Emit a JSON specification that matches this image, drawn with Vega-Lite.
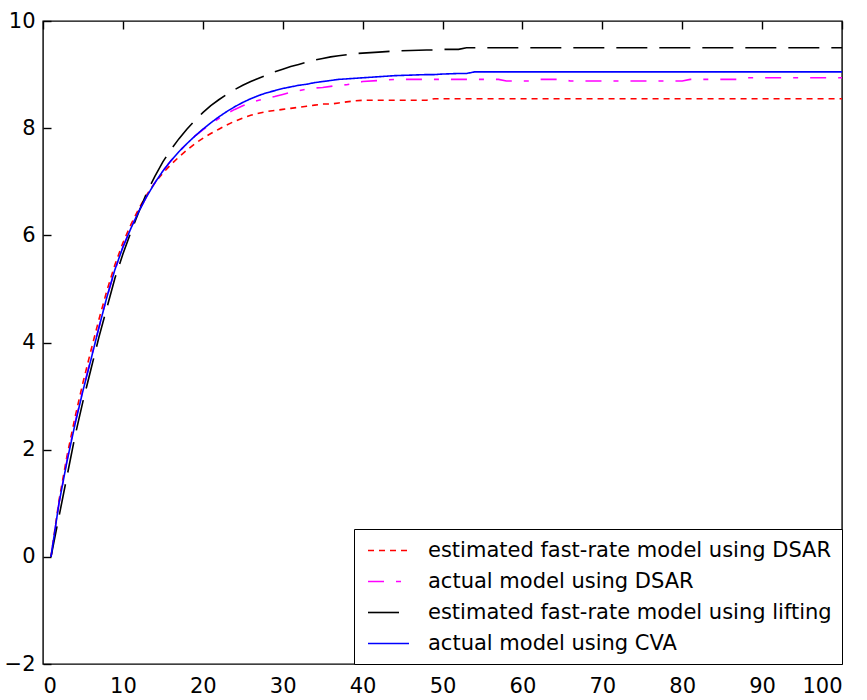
{
  "$schema": "https://vega.github.io/schema/vega-lite/v6.json",
  "width": 799,
  "height": 643,
  "autosize": {"type": "none"},
  "padding": {"left": 43, "top": 21, "right": 25, "bottom": 36},
  "background": "white",
  "datasets": {
    "response": [
      {"t": 1, "s1": 0, "s2": 0, "s3": 0, "s4": 0},
      {"t": 2, "s1": 1.05, "s2": 1.0, "s3": 0.75, "s4": 1.0},
      {"t": 3, "s1": 1.88, "s2": 1.8, "s3": 1.5, "s4": 1.78},
      {"t": 4, "s1": 2.6, "s2": 2.5, "s3": 2.25, "s4": 2.47},
      {"t": 5, "s1": 3.25, "s2": 3.12, "s3": 2.9, "s4": 3.1},
      {"t": 6, "s1": 3.85, "s2": 3.7, "s3": 3.5, "s4": 3.68},
      {"t": 7, "s1": 4.43, "s2": 4.28, "s3": 4.1, "s4": 4.28},
      {"t": 8, "s1": 4.97, "s2": 4.85, "s3": 4.65, "s4": 4.85},
      {"t": 9, "s1": 5.45, "s2": 5.35, "s3": 5.2, "s4": 5.36},
      {"t": 10, "s1": 5.86, "s2": 5.78, "s3": 5.65, "s4": 5.78},
      {"t": 11, "s1": 6.2, "s2": 6.14, "s3": 6.06, "s4": 6.13},
      {"t": 12, "s1": 6.5, "s2": 6.45, "s3": 6.44, "s4": 6.45},
      {"t": 13, "s1": 6.76, "s2": 6.73, "s3": 6.8, "s4": 6.73},
      {"t": 14, "s1": 6.98, "s2": 6.98, "s3": 7.1, "s4": 6.98},
      {"t": 15, "s1": 7.16, "s2": 7.2, "s3": 7.37, "s4": 7.2},
      {"t": 16, "s1": 7.32, "s2": 7.39, "s3": 7.6, "s4": 7.39},
      {"t": 17, "s1": 7.46, "s2": 7.56, "s3": 7.8, "s4": 7.56},
      {"t": 18, "s1": 7.59, "s2": 7.71, "s3": 7.98, "s4": 7.71},
      {"t": 19, "s1": 7.71, "s2": 7.85, "s3": 8.14, "s4": 7.85},
      {"t": 20, "s1": 7.81, "s2": 7.97, "s3": 8.29, "s4": 7.98},
      {"t": 21, "s1": 7.9, "s2": 8.08, "s3": 8.42, "s4": 8.1},
      {"t": 22, "s1": 7.98, "s2": 8.18, "s3": 8.53, "s4": 8.21},
      {"t": 23, "s1": 8.06, "s2": 8.27, "s3": 8.63, "s4": 8.31},
      {"t": 24, "s1": 8.13, "s2": 8.35, "s3": 8.72, "s4": 8.4},
      {"t": 25, "s1": 8.19, "s2": 8.42, "s3": 8.8, "s4": 8.48},
      {"t": 26, "s1": 8.24, "s2": 8.48, "s3": 8.87, "s4": 8.55},
      {"t": 27, "s1": 8.28, "s2": 8.52, "s3": 8.93, "s4": 8.61},
      {"t": 28, "s1": 8.31, "s2": 8.56, "s3": 8.99, "s4": 8.66},
      {"t": 29, "s1": 8.33, "s2": 8.59, "s3": 9.05, "s4": 8.7},
      {"t": 30, "s1": 8.35, "s2": 8.63, "s3": 9.1, "s4": 8.74},
      {"t": 31, "s1": 8.37, "s2": 8.67, "s3": 9.15, "s4": 8.77},
      {"t": 32, "s1": 8.39, "s2": 8.7, "s3": 9.19, "s4": 8.8},
      {"t": 33, "s1": 8.41, "s2": 8.73, "s3": 9.23, "s4": 8.82},
      {"t": 34, "s1": 8.43, "s2": 8.75, "s3": 9.27, "s4": 8.85},
      {"t": 35, "s1": 8.45, "s2": 8.76, "s3": 9.3, "s4": 8.87},
      {"t": 36, "s1": 8.45, "s2": 8.78, "s3": 9.33, "s4": 8.89},
      {"t": 37, "s1": 8.47, "s2": 8.8, "s3": 9.35, "s4": 8.91},
      {"t": 38, "s1": 8.49, "s2": 8.81, "s3": 9.37, "s4": 8.92},
      {"t": 39, "s1": 8.51, "s2": 8.84, "s3": 9.39, "s4": 8.93},
      {"t": 40, "s1": 8.52, "s2": 8.87, "s3": 9.4, "s4": 8.94},
      {"t": 42, "s1": 8.52, "s2": 8.89, "s3": 9.42, "s4": 8.96},
      {"t": 44, "s1": 8.52, "s2": 8.91, "s3": 9.44, "s4": 8.98},
      {"t": 46, "s1": 8.52, "s2": 8.91, "s3": 9.45, "s4": 8.99},
      {"t": 48, "s1": 8.52, "s2": 8.91, "s3": 9.46, "s4": 9.0},
      {"t": 49, "s1": 8.55, "s2": 8.91, "s3": 9.46, "s4": 9.0},
      {"t": 50, "s1": 8.55, "s2": 8.91, "s3": 9.47, "s4": 9.01},
      {"t": 52, "s1": 8.55, "s2": 8.91, "s3": 9.47, "s4": 9.02},
      {"t": 53, "s1": 8.55, "s2": 8.91, "s3": 9.5, "s4": 9.02},
      {"t": 54, "s1": 8.55, "s2": 8.91, "s3": 9.5, "s4": 9.05},
      {"t": 57, "s1": 8.55, "s2": 8.91, "s3": 9.5, "s4": 9.05},
      {"t": 58, "s1": 8.55, "s2": 8.88, "s3": 9.5, "s4": 9.05},
      {"t": 61, "s1": 8.55, "s2": 8.88, "s3": 9.5, "s4": 9.05},
      {"t": 62, "s1": 8.55, "s2": 8.91, "s3": 9.5, "s4": 9.05},
      {"t": 65, "s1": 8.55, "s2": 8.91, "s3": 9.5, "s4": 9.05},
      {"t": 66, "s1": 8.55, "s2": 8.88, "s3": 9.5, "s4": 9.05},
      {"t": 80, "s1": 8.55, "s2": 8.88, "s3": 9.5, "s4": 9.05},
      {"t": 81, "s1": 8.55, "s2": 8.91, "s3": 9.5, "s4": 9.05},
      {"t": 87, "s1": 8.55, "s2": 8.91, "s3": 9.5, "s4": 9.05},
      {"t": 88, "s1": 8.55, "s2": 8.94, "s3": 9.5, "s4": 9.05},
      {"t": 100, "s1": 8.55, "s2": 8.94, "s3": 9.5, "s4": 9.05}
    ]
  },
  "data": {"name": "response"},
  "transform": [
    {"fold": ["s1", "s2", "s3", "s4"], "as": ["series", "y"]}
  ],
  "layer": [
    {
      "mark": {"type": "line", "strokeWidth": 1.6, "clip": true},
      "encoding": {
        "x": {
          "field": "t", "type": "quantitative",
          "scale": {"domain": [0, 100], "nice": false, "zero": false},
          "axis": {
            "orient": "bottom", "title": null,
            "values": [0, 10, 20, 30, 40, 50, 60, 70, 80, 90, 100],
            "labelPadding": 11
          }
        },
        "y": {
          "field": "y", "type": "quantitative",
          "scale": {"domain": [-2, 10], "nice": false, "zero": false},
          "axis": {
            "orient": "left", "title": null,
            "values": [-2, 0, 2, 4, 6, 8, 10],
            "labelPadding": 8
          }
        },
        "color": {
          "field": "series", "type": "nominal",
          "scale": {
            "domain": ["s1", "s2", "s3", "s4"],
            "range": ["#ff0000", "#ff00ff", "#000000", "#0000ff"]
          },
          "legend": {
            "title": null,
            "orient": "bottom-right",
            "offset": 0,
            "labelExpr": "datum.value == 's1' ? 'estimated fast-rate model using DSAR' : datum.value == 's2' ? 'actual model using DSAR' : datum.value == 's3' ? 'estimated fast-rate model using lifting' : 'actual model using CVA'"
          }
        },
        "strokeDash": {
          "field": "series", "type": "nominal",
          "scale": {
            "domain": ["s1", "s2", "s3", "s4"],
            "range": [[6, 5], [16, 12, 5, 12], [31, 12], [1, 0]]
          },
          "legend": {
            "title": null,
            "orient": "bottom-right",
            "offset": 0,
            "labelExpr": "datum.value == 's1' ? 'estimated fast-rate model using DSAR' : datum.value == 's2' ? 'actual model using DSAR' : datum.value == 's3' ? 'estimated fast-rate model using lifting' : 'actual model using CVA'"
          }
        }
      }
    },
    {
      "mark": {"type": "line", "opacity": 0},
      "encoding": {
        "x": {
          "field": "t", "type": "quantitative",
          "scale": {"domain": [0, 100], "nice": false, "zero": false},
          "axis": {
            "orient": "top", "title": null, "labels": false,
            "values": [0, 10, 20, 30, 40, 50, 60, 70, 80, 90, 100]
          }
        },
        "y": {
          "field": "y", "type": "quantitative",
          "scale": {"domain": [-2, 10], "nice": false, "zero": false},
          "axis": {
            "orient": "right", "title": null, "labels": false,
            "values": [-2, 0, 2, 4, 6, 8, 10]
          }
        }
      }
    }
  ],
  "resolve": {"axis": {"x": "independent", "y": "independent"}},
  "config": {
    "view": {"stroke": "#000000", "strokeWidth": 1.4},
    "axis": {
      "domain": false,
      "ticks": false,
      "tickSize": 0,
      "grid": true,
      "gridColor": "#000000",
      "gridOpacity": 1,
      "gridWidth": 1.4,
      "gridDash": [8, 2000],
      "zindex": 1,
      "labelFont": "DejaVu Sans",
      "labelFontSize": 21,
      "labelColor": "#000000"
    },
    "legend": {
      "symbolType": "M-2,0L2,0",
      "symbolSize": 420,
      "symbolStrokeWidth": 1.6,
      "symbolOffset": 13,
      "labelFont": "DejaVu Sans",
      "labelFontSize": 21,
      "labelColor": "#000000",
      "labelOffset": 28,
      "labelLimit": 0,
      "rowPadding": 9,
      "padding": 10,
      "strokeColor": "#000000",
      "fillColor": "#ffffff"
    }
  }
}
